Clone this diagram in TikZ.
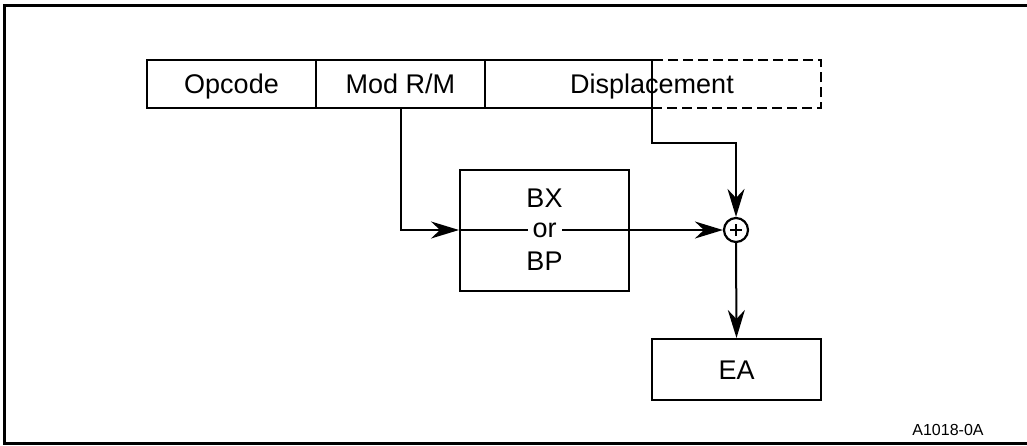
\documentclass[tikz,border=0pt]{standalone}
\usepackage{fontspec}
\setmainfont{Liberation Sans}
\usepackage{tikz}
\usetikzlibrary{arrows.meta,positioning}

\begin{document}
\begin{tikzpicture}[
  x=0.5pt, y=-0.5pt,
  fld/.style={draw, line width=1pt, outer sep=0pt, minimum height=24pt, minimum width=84.5pt, inner sep=0pt, text height=9.7pt, text depth=0pt, font=\fontsize{13.5}{16}\selectfont},
  blk/.style={draw, line width=1pt, minimum width=84.5pt, inner sep=0pt, text height=9.7pt, text depth=0pt, font=\fontsize{13.5}{16}\selectfont},
  txt/.style={inner sep=0pt, text height=9.7pt, text depth=0pt, font=\fontsize{13.5}{16}\selectfont},
  sumnode/.style={draw, circle, line width=1.1pt, minimum size=12pt, inner sep=0pt},
  edge/.style={-{Stealth[length=14pt, width=8.5pt, inset=4.5pt]}, line width=1pt}
]
\useasboundingbox (0,0) rectangle (1027,445);
\draw[line width=1.5pt] (1040,5) -- (4,5) -- (4,443) -- (1040,443);

% instruction fields
\node[fld] (opcode) at (231.5,84) {Opcode};
\node[fld, right=0pt of opcode] (modrm) {Mod R/M};
\node[fld, right=0pt of modrm, minimum width=83.5pt] (disp) {};
\node[fld, right=0pt of disp, dashed, dash pattern=on 5pt off 2.5pt] (dispx) {};
\node[txt] (disptxt) at (disp.east) {Displacement};

% base register, adder, result
\node[blk, minimum height=60.5pt] (bx) at (544.5,230) {};
\node[txt] (bxtxt) at (544.5,198) {BX};
\node[txt] (bptxt) at (544.5,261) {BP};
\node[sumnode] (sum) at (736,230) {};
\draw[line width=1.3pt] ([xshift=-3pt]sum.center) -- ([xshift=3pt]sum.center)
  ([yshift=-3pt]sum.center) -- ([yshift=3pt]sum.center);
\node[blk, minimum height=30.5pt] (ea) at (736.5,369.5) {EA};

\draw[edge] (modrm.south) |- (bx.west);
\draw[edge] (bx.west) -- (sum.west);
\node[inner sep=0pt, inner xsep=2.5pt, fill=white, font=\fontsize{13.5}{16}\selectfont] (ortxt) at (bx.center) {or};
\draw[edge] (disp.south east) -- ++(0,35) -| (sum.north);
\draw[edge] (sum.south) -- (ea.north);

\node[font=\fontsize{8}{10}\selectfont, inner sep=0pt] (fig) at (948,430) {A1018-0A};
\end{tikzpicture}
\end{document}
